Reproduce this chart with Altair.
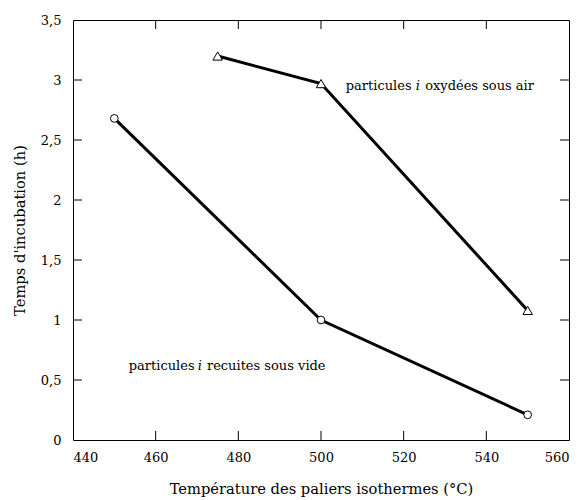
import altair as alt
import pandas as pd

# Data
recuit_temp = [450, 500, 550]
recuit_time = [2.68, 1.0, 0.21]
oxy_temp = [475, 500, 550]
oxy_time = [3.2, 2.97, 1.08]

x_ticks = [440, 460, 480, 500, 520, 540, 560]
y_ticks = [0, 0.5, 1, 1.5, 2, 2.5, 3, 3.5]
x_inner_ticks = [460, 480, 500, 520, 540]
y_inner_ticks = [0.5, 1, 1.5, 2, 2.5, 3]

# annotation pieces (data-space anchors)
ann_x = [506.0, 522.9, 525.2, 453.5, 470.2, 472.4]
ann_y = [2.95, 2.95, 2.95, 0.617, 0.617, 0.617]
ann_text = ["particules", "i", "oxydées sous air", "particules", "i", "recuites sous vide"]
ann_style = ["normal", "italic", "normal", "normal", "italic", "normal"]

W, H = 496, 420
FONT = "DejaVu Serif"

df_r = pd.DataFrame({"T": recuit_temp, "t": recuit_time})
df_o = pd.DataFrame({"T": oxy_temp, "t": oxy_time})
df_xt = pd.DataFrame({"T": x_inner_ticks})
df_yt = pd.DataFrame({"t": y_inner_ticks})
df_ann = pd.DataFrame({"T": ann_x, "t": ann_y, "txt": ann_text, "style": ann_style})
df_ann_n = df_ann[df_ann["style"] == "normal"]
df_ann_i = df_ann[df_ann["style"] == "italic"]

xs = alt.Scale(domain=[440, 560], nice=False, zero=False)
ys = alt.Scale(domain=[0, 3.5], nice=False)

x_axis = alt.Axis(values=x_ticks, ticks=False, domain=False, grid=False,
                  labelFont=FONT, labelFontSize=13, labelColor="black", labelPadding=11,
                  title="Température des paliers isothermes (°C)", titleFont=FONT,
                  titleFontSize=14.7, titleFontWeight="normal", titleColor="black",
                  titlePadding=17)
y_axis = alt.Axis(values=y_ticks, ticks=False, domain=False, grid=False,
                  labelFont=FONT, labelFontSize=13, labelColor="black", labelPadding=12,
                  labelExpr="replace(toString(datum.value), '.', ',')",
                  title="Temps d'incubation (h)", titleFont=FONT,
                  titleFontSize=14.7, titleFontWeight="normal", titleColor="black",
                  titlePadding=13)

X = alt.X("T:Q", scale=xs, axis=x_axis)
Y = alt.Y("t:Q", scale=ys, axis=y_axis)

line_r = alt.Chart(df_r).mark_line(color="black", strokeWidth=3).encode(x=X, y=Y)
line_o = alt.Chart(df_o).mark_line(color="black", strokeWidth=3).encode(x=X, y=Y)
pts_r = alt.Chart(df_r).mark_point(shape="circle", filled=True, fill="white", stroke="black",
                                   strokeWidth=1, size=60, opacity=1).encode(x=X, y=Y)
pts_o = alt.Chart(df_o).mark_point(shape="triangle-up", filled=True, fill="white", stroke="black",
                                   strokeWidth=1, size=90, opacity=1).encode(x=X, y=Y)

xt_bottom = alt.Chart(df_xt).mark_rule(color="black", strokeWidth=1).encode(
    x=X, y=alt.value(H), y2=alt.value(H - 9))
xt_top = alt.Chart(df_xt).mark_rule(color="black", strokeWidth=1).encode(
    x=X, y=alt.value(0), y2=alt.value(9))
yt_left = alt.Chart(df_yt).mark_rule(color="black", strokeWidth=1).encode(
    y=Y, x=alt.value(0), x2=alt.value(9))
yt_right = alt.Chart(df_yt).mark_rule(color="black", strokeWidth=1).encode(
    y=Y, x=alt.value(W), x2=alt.value(W - 9))

ann_n = alt.Chart(df_ann_n).mark_text(font=FONT, fontSize=13, align="left", baseline="middle",
                                      color="black").encode(x=X, y=Y, text="txt:N")
ann_i = alt.Chart(df_ann_i).mark_text(font=FONT, fontSize=13, align="left", baseline="middle",
                                      fontStyle="italic", color="black").encode(x=X, y=Y, text="txt:N")

chart = alt.layer(xt_bottom, xt_top, yt_left, yt_right, line_r, line_o, pts_r, pts_o,
                  ann_n, ann_i).properties(
    width=W, height=H,
    autosize=alt.AutoSizeParams(type="none"),
    padding={"left": 65, "top": 12, "right": 6, "bottom": 60},
).configure_view(stroke="black", strokeWidth=1)

chart.save("out.html", embed_options={"renderer": "svg", "actions": False})
